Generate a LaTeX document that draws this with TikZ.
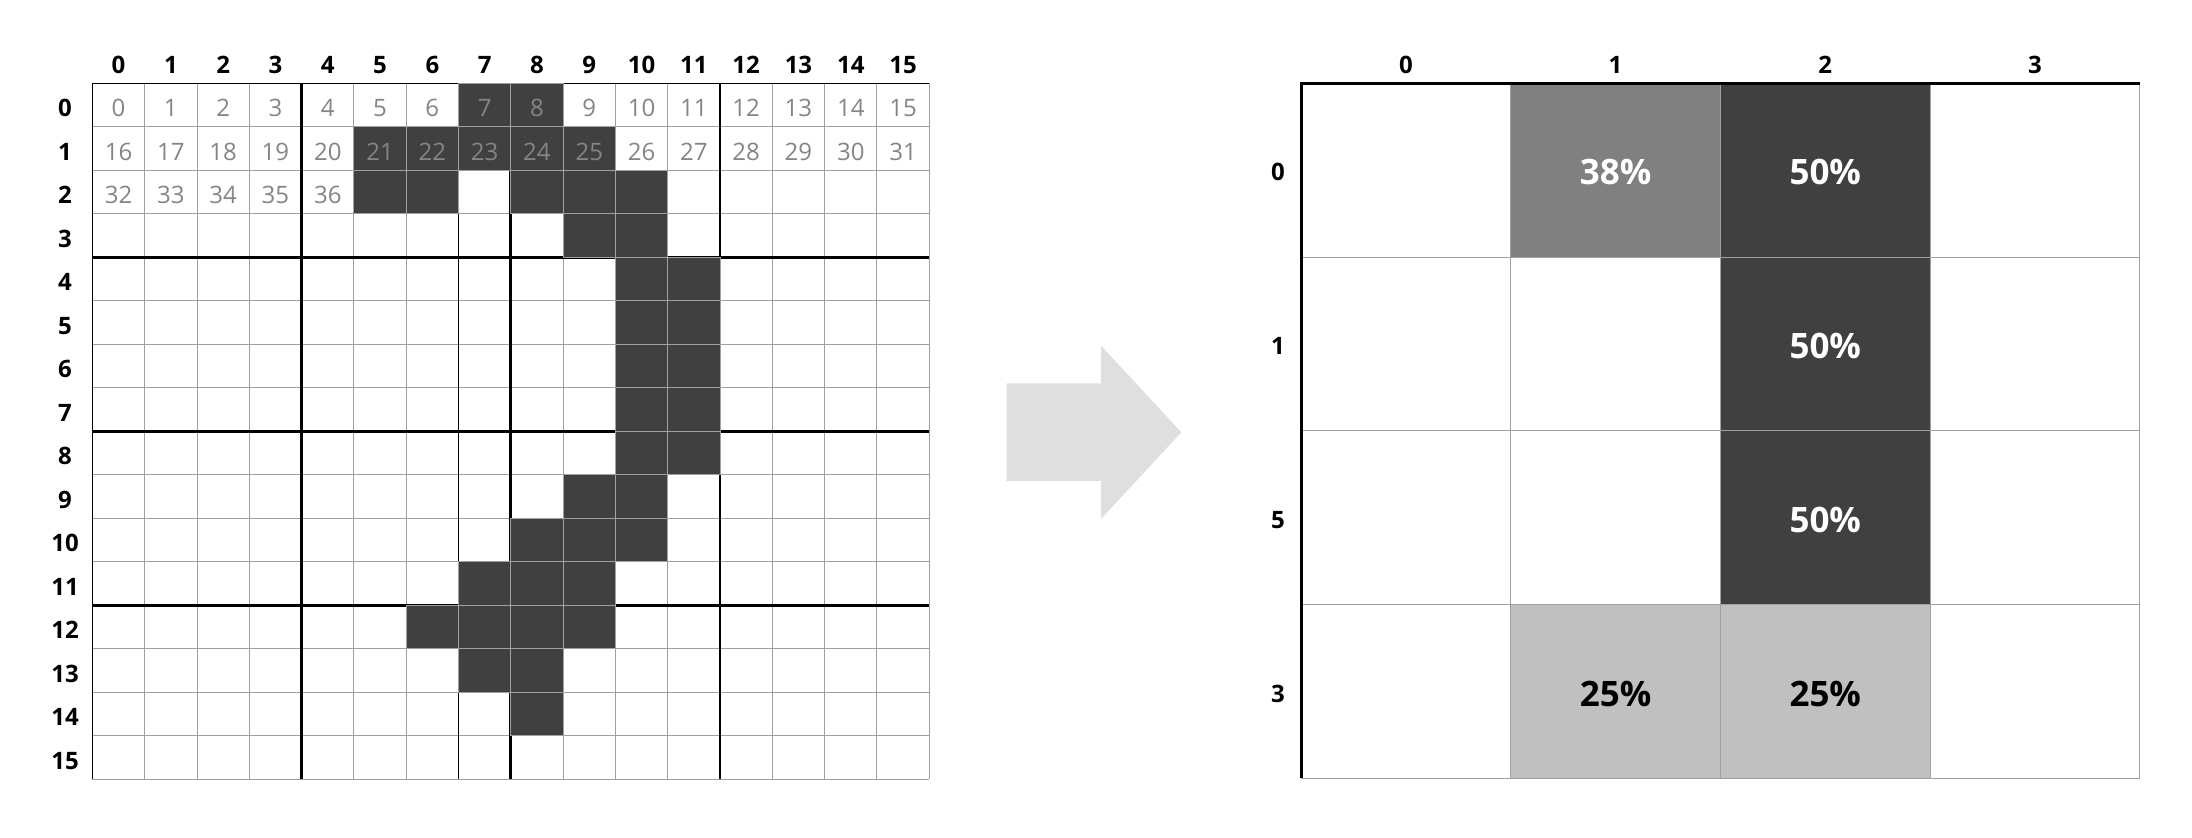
\documentclass[tikz,border=0pt]{standalone}
\usepackage{fontspec}
\setmainfont{Open Sans}
\definecolor{cdark}{HTML}{404040}
\definecolor{cmed}{HTML}{808080}
\definecolor{clight}{HTML}{C0C0C0}
\definecolor{cline}{HTML}{A0A0A0}
\definecolor{cnum}{HTML}{858585}
\definecolor{carrow}{HTML}{DFDFDF}
\tikzset{
  gridline/.style={draw=cline, line width=0.5pt},
  thinblack/.style={draw=black, line width=0.65pt},
  thickblack/.style={draw=black, line width=1.4pt},
  darkcell/.style={fill=cdark, draw=cline, line width=0.5pt},
  axislabel/.style={inner sep=0pt, font=\fontsize{12}{14}\selectfont\bfseries, text=black},
  cellnum/.style={inner sep=0pt, font=\fontsize{12}{14}\selectfont, text=cnum},
  pctlabel/.style={inner sep=0pt, font=\fontsize{17.5}{20}\selectfont\bfseries},
}
\begin{document}
\begin{tikzpicture}[x=0.5pt,y=-0.5pt]
\useasboundingbox (0,0) rectangle (2192,838);
\fill[white] (0,0) rectangle (2192,838);
% ---------- left grid ----------
\foreach \i in {1,...,16} {
  \draw[gridline] ({92.4+\i*52.3},83.5) -- ({92.4+\i*52.3},779.5);
  \draw[gridline] (92.4,{83.5+\i*43.5}) -- (929.2,{83.5+\i*43.5});
}
\draw[thinblack] (92.4,779.5) -- (92.4,83.5) -- (929.2,83.5);
\draw[thinblack] (458.5,83.5) -- (458.5,779.5);
\foreach \k in {4,8,12} {
  \draw[thickblack] ({92.4+\k*52.3},83.5) -- ({92.4+\k*52.3},779.5);
  \draw[thickblack] (92.4,{83.5+\k*43.5}) -- (929.2,{83.5+\k*43.5});
}
\foreach \r/\c in {0/7,0/8,1/5,1/6,1/7,1/8,1/9,2/5,2/6,2/8,2/9,2/10,3/9,3/10,
  4/10,4/11,5/10,5/11,6/10,6/11,7/10,7/11,8/10,8/11,9/9,9/10,10/8,10/9,10/10,
  11/7,11/8,11/9,12/6,12/7,12/8,12/9,13/7,13/8,14/8} {
  \path[darkcell] ({92.4+\c*52.3},{83.5+\r*43.5}) rectangle ++(52.3,43.5);
}
\foreach \c in {0,...,15} {
  \node[axislabel] (cl\c) at ({92.4+(\c+0.5)*52.3},65) {\c};
  \node[axislabel] (rl\c) at (65,{83.5+(\c+0.5)*43.5+3}) {\c};
  \pgfmathtruncatemacro{\na}{\c}
  \pgfmathtruncatemacro{\nb}{\c+16}
  \node[cellnum] (num0-\c) at ({92.4+(\c+0.5)*52.3},{83.5+0.5*43.5+3}) {\na};
  \node[cellnum] (num1-\c) at ({92.4+(\c+0.5)*52.3},{83.5+1.5*43.5+3}) {\nb};
}
\foreach \c in {0,...,4} {
  \pgfmathtruncatemacro{\nc}{\c+32}
  \node[cellnum] (num2-\c) at ({92.4+(\c+0.5)*52.3},{83.5+2.5*43.5+3}) {\nc};
}
% ---------- arrow ----------
\fill[carrow] (1006.7,383.3) -- (1101,383.3) -- (1101,345.7) -- (1181.3,432.3)
  -- (1101,519) -- (1101,481) -- (1006.7,481) -- cycle;
% ---------- right grid ----------
\fill[cmed]   ({1301+1*209.7},{83.5+0*173.75}) rectangle ++(209.7,173.75);
\fill[cdark]  ({1301+2*209.7},{83.5+0*173.75}) rectangle ++(209.7,173.75);
\fill[cdark]  ({1301+2*209.7},{83.5+1*173.75}) rectangle ++(209.7,173.75);
\fill[cdark]  ({1301+2*209.7},{83.5+2*173.75}) rectangle ++(209.7,173.75);
\fill[clight] ({1301+1*209.7},{83.5+3*173.75}) rectangle ++(209.7,173.75);
\fill[clight] ({1301+2*209.7},{83.5+3*173.75}) rectangle ++(209.7,173.75);
\foreach \i in {1,...,4} {
  \draw[gridline] ({1301+\i*209.7},83.5) -- ({1301+\i*209.7},778.5);
  \draw[gridline] (1301,{83.5+\i*173.75}) -- (2139.8,{83.5+\i*173.75});
}
\draw[draw=black, line width=1.5pt] (1301,778.5) -- (1301,83.5) -- (2139.8,83.5);
\foreach \c in {0,...,3} {
  \node[axislabel] (rcl\c) at ({1301+(\c+0.5)*209.7},65) {\c};
}
\foreach \r/\t in {0/0,1/1,2/5,3/3} {
  \node[axislabel] (rrl\r) at (1278,{83.5+(\r+0.5)*173.75+2}) {\t};
}
\node[pctlabel, text=white] (pct0-1) at ({1301+1.5*209.7},{83.5+0.5*173.75+2}) {38\%};
\node[pctlabel, text=white] (pct0-2) at ({1301+2.5*209.7},{83.5+0.5*173.75+2}) {50\%};
\node[pctlabel, text=white] (pct1-2) at ({1301+2.5*209.7},{83.5+1.5*173.75+2}) {50\%};
\node[pctlabel, text=white] (pct2-2) at ({1301+2.5*209.7},{83.5+2.5*173.75+2}) {50\%};
\node[pctlabel, text=black] (pct3-1) at ({1301+1.5*209.7},{83.5+3.5*173.75+2}) {25\%};
\node[pctlabel, text=black] (pct3-2) at ({1301+2.5*209.7},{83.5+3.5*173.75+2}) {25\%};
\end{tikzpicture}
\end{document}
